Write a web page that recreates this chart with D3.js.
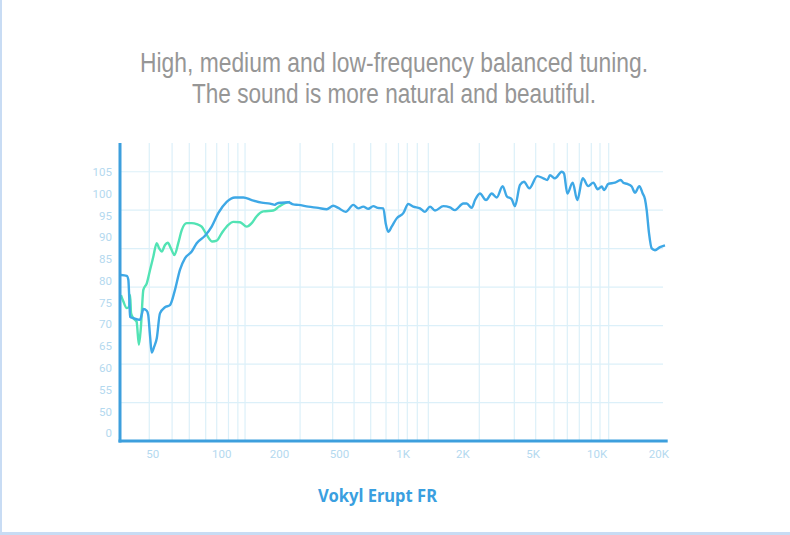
<!DOCTYPE html>
<html>
<head>
<meta charset="utf-8">
<script src="https://cdn.jsdelivr.net/npm/d3@7"></script>
<style>
  html, body { margin: 0; padding: 0; background: #fff; }
  svg { display: block; }
  .tick text { font-family: "Roboto", "Noto Sans", sans-serif; }
</style>
</head>
<body>
<div id="chart"></div>
<script>
// ---------------------------//
//           DATA             //
// ---------------------------//

// x tick labels (Hz) and their text
const xTickFreqs = [50, 100, 200, 500, 1000, 2000, 5000, 10000, 20000];
const xTickLabels = ["50", "100", "200", "500", "1K", "2K", "5K", "10K", "20K"];

// y tick values (dB) and their text (bottom label reads "0")
const yTickValues = [45, 50, 55, 60, 65, 70, 75, 80, 85, 90, 95, 100, 105];
const yTickLabels = ["0", "50", "55", "60", "65", "70", "75", "80", "85", "90", "95", "100", "105"];

// faint vertical grid lines (Hz)
const gridFreqs = [48.5, 61, 72.5, 85.5, 95.5, 109, 122, 133, 276, 454, 589, 706, 834, 955,
  1055, 1185, 1347, 2495, 3935, 5165, 6297, 7273, 8282, 9431, 10378, 11446];

// main FR curve (blue)
const blueFreq = [36.5, 38.7, 39.3, 39.7, 40.0, 41.3, 44.2, 44.9, 45.7, 47.3, 48.0, 48.9, 49.7,
  51.0, 52.3, 54.0, 56.8, 59.7, 62.8, 66.0, 69.4, 74.3, 78.1, 84.9, 90.8, 97.0, 106.7, 117.9,
  130.3, 144.1, 162.5, 179.5, 190.6, 194.6, 208.4, 230.5, 248.8, 268.6, 312.8, 364.4, 414.4,
  458.3, 494.6, 537.8, 584, 617, 651, 688, 726, 762, 810, 831, 855, 887, 937, 1007, 1067, 1131,
  1223, 1296, 1374, 1456, 1604, 1733, 1837, 2026, 2118, 2260, 2360, 2518, 2723, 2932, 3129,
  3384, 3564, 3804, 3971, 4238, 4464, 4783, 5255, 5608, 5857, 6030, 6366, 6845, 7018, 7273,
  7711, 8105, 8594, 9130, 9639, 10113, 10579, 10856, 11394, 12286, 13100, 13490, 14110, 14826,
  15388, 16150, 16780, 17220, 17550, 18014, 18570, 19270, 20390, 21565];
const blueDb = [81.3, 81.1, 80.2, 75.6, 71.7, 71.4, 71.0, 72.1, 73.5, 73.1, 72.1, 67.2, 63.5,
  64.9, 66.8, 72.5, 73.9, 74.4, 77.9, 82.5, 85.1, 86.7, 88.6, 90.3, 92.4, 95.5, 98.1, 99.1,
  99.1, 98.5, 97.9, 97.7, 97.4, 97.7, 97.9, 98.0, 97.5, 97.4, 97.0, 96.7, 96.4,
  97.2, 96.7, 95.8, 97.4, 96.6, 97.0, 96.5, 97.1, 96.7, 96.6, 93.2, 91.2, 92.4, 94.3, 95.5, 97.6, 97.0,
  96.6, 95.8, 97.0, 96.1, 97.1, 96.8, 96.2, 97.7, 97.7, 96.7, 98.5, 100.0, 98.5, 100.0, 99.1,
  101.7, 99.4, 98.7, 97.1, 102.0, 102.7, 101.2, 104.0, 103.5, 103.1, 104.2, 103.5, 105.0, 104.6, 100.0,
  102.5, 98.5, 103.5, 101.7, 102.5, 101.0, 101.6, 100.8, 102.2, 102.5, 103.1, 102.5, 102.2, 101.6,
  100.2, 101.7, 100.0, 98.7, 96.2, 90.9, 87.4, 87.0, 87.7, 88.1];

// second curve (green), low end only
const greenFreq = [36.5, 37.4, 38.7, 39.6, 40.0, 40.4, 41.3, 42.7, 43.7, 44.6, 45.7, 47.3, 48.9,
  50.5, 52.3, 53.6, 55.0, 56.8, 58.4, 60.3, 62.4, 64.9, 67.2, 70.6, 74.3, 78.1, 82.1, 86.4,
  91.4, 95.5, 100.5, 108.8, 115.5, 125.2, 135.7, 144.1, 153, 165.6, 186.8, 200, 219.2, 236.6];
const greenDb = [76.7, 75.2, 73.7, 74.0, 76.7, 72.5, 71.4, 70.6, 65.3, 69.4, 77.9, 79.4, 82.5,
  85.5, 88.6, 87.4, 86.7, 88.2, 88.7, 87.4, 85.9, 88.6, 91.6, 93.2, 93.2, 93.0, 92.4, 90.5,
  89.0, 89.2, 90.9, 92.8, 93.5, 93.4, 92.4, 93.2, 94.8, 95.9, 96.1, 97.0, 97.8, 98.1];

// ---------------------------//
//       SET  CANVAS          //
// ---------------------------//

const W = 790, H = 535;
const plot = {left: 120, right: 667.7, top: 143, bottom: 441, gridRight: 663};

const svg = d3.select("#chart")
  .append("svg")
  .attr("width", W)
  .attr("height", H);

// thin page border (left and bottom)
svg.append("rect").attr("x", 0).attr("y", 0).attr("width", 2).attr("height", H).attr("fill", "#c8dcf4");
svg.append("rect").attr("x", 0).attr("y", H - 3).attr("width", W).attr("height", 3).attr("fill", "#c8dcf4");

// headline
const headline = ["High, medium and low-frequency balanced tuning.", "The sound is more natural and beautiful."];
const headWidths = [508, 404];
svg.selectAll("text.head")
  .data(headline)
  .enter()
  .append("text")
  .attr("class", "head")
  .attr("x", 394)
  .attr("y", (d, i) => 72 + i * 31)
  .attr("text-anchor", "middle")
  .attr("textLength", (d, i) => headWidths[i])
  .attr("lengthAdjust", "spacingAndGlyphs")
  .style("font-family", "'Liberation Sans Narrow', 'Liberation Sans', sans-serif")
  .style("font-weight", 400)
  .style("font-size", "27px")
  .style("fill", "#969696")
  .text(d => d);

// ---------------------------//
//       AXIS  AND SCALE      //
// ---------------------------//

// piecewise log scale, matched to the printed labels
const x = d3.scaleLog()
  .domain(xTickFreqs)
  .range([152.3, 221.3, 279, 339, 402.7, 462.3, 532.7, 596.7, 658.3]);

const y = d3.scaleLinear()
  .domain([43.2, 111.6])
  .range([plot.bottom, plot.top]);

const gridColor = "#dcf0f9";

// horizontal grid: 7 bands from 105 down to the baseline
const gTop = y(105);
svg.append("g")
  .selectAll("line")
  .data(d3.range(7))
  .enter()
  .append("line")
  .attr("x1", plot.left)
  .attr("x2", plot.gridRight)
  .attr("y1", i => gTop + i * (plot.bottom - gTop) / 7)
  .attr("y2", i => gTop + i * (plot.bottom - gTop) / 7)
  .attr("stroke", gridColor)
  .attr("stroke-width", 1.2);

// vertical grid
svg.append("g")
  .selectAll("line")
  .data(gridFreqs)
  .enter()
  .append("line")
  .attr("x1", d => x(d))
  .attr("x2", d => x(d))
  .attr("y1", plot.top)
  .attr("y2", plot.bottom)
  .attr("stroke", gridColor)
  .attr("stroke-width", 1.2);

// X axis labels
svg.append("g")
  .attr("transform", `translate(0,${plot.bottom})`)
  .call(d3.axisBottom(x).tickValues(xTickFreqs).tickFormat((d, i) => xTickLabels[i]).tickSize(0).tickPadding(9))
  .call(g => g.select(".domain").remove())
  .selectAll("text")
  .style("font-size", "11.5px")
  .style("fill", "#b4d9ef");

// Y axis labels
svg.append("g")
  .attr("transform", `translate(${plot.left},0)`)
  .call(d3.axisLeft(y).tickValues(yTickValues).tickFormat((d, i) => yTickLabels[i]).tickSize(0).tickPadding(8))
  .call(g => g.select(".domain").remove())
  .selectAll("text")
  .style("font-size", "11.5px")
  .style("fill", "#b4d9ef");

// ---------------------------//
//          CURVES            //
// ---------------------------//

const line = d3.line()
  .x(d => x(d[0]))
  .y(d => y(d[1]))
  .curve(d3.curveMonotoneX);

svg.append("path")
  .datum(d3.zip(greenFreq, greenDb))
  .attr("fill", "none")
  .attr("stroke", "#52e3b4")
  .attr("stroke-width", 2.4)
  .attr("stroke-linejoin", "round")
  .attr("d", line);

svg.append("path")
  .datum(d3.zip(blueFreq, blueDb))
  .attr("fill", "none")
  .attr("stroke", "#3ea8e6")
  .attr("stroke-width", 2.4)
  .attr("stroke-linejoin", "round")
  .attr("d", line);

// axis lines on top
svg.append("line")
  .attr("x1", plot.left).attr("x2", plot.left)
  .attr("y1", plot.top).attr("y2", plot.bottom + 1.5)
  .attr("stroke", "#3d9fdd").attr("stroke-width", 3);
svg.append("line")
  .attr("x1", plot.left - 1.5).attr("x2", plot.right)
  .attr("y1", plot.bottom).attr("y2", plot.bottom)
  .attr("stroke", "#3d9fdd").attr("stroke-width", 3);

// chart caption
svg.append("text")
  .attr("x", 377.5)
  .attr("y", 502)
  .attr("text-anchor", "middle")
  .attr("textLength", 119)
  .attr("lengthAdjust", "spacingAndGlyphs")
  .style("font-family", "'Noto Sans', 'Open Sans', sans-serif")
  .style("font-weight", 700)
  .style("font-size", "17px")
  .style("fill", "#3a9fe0")
  .text("Vokyl Erupt FR");
</script>
</body>
</html>
